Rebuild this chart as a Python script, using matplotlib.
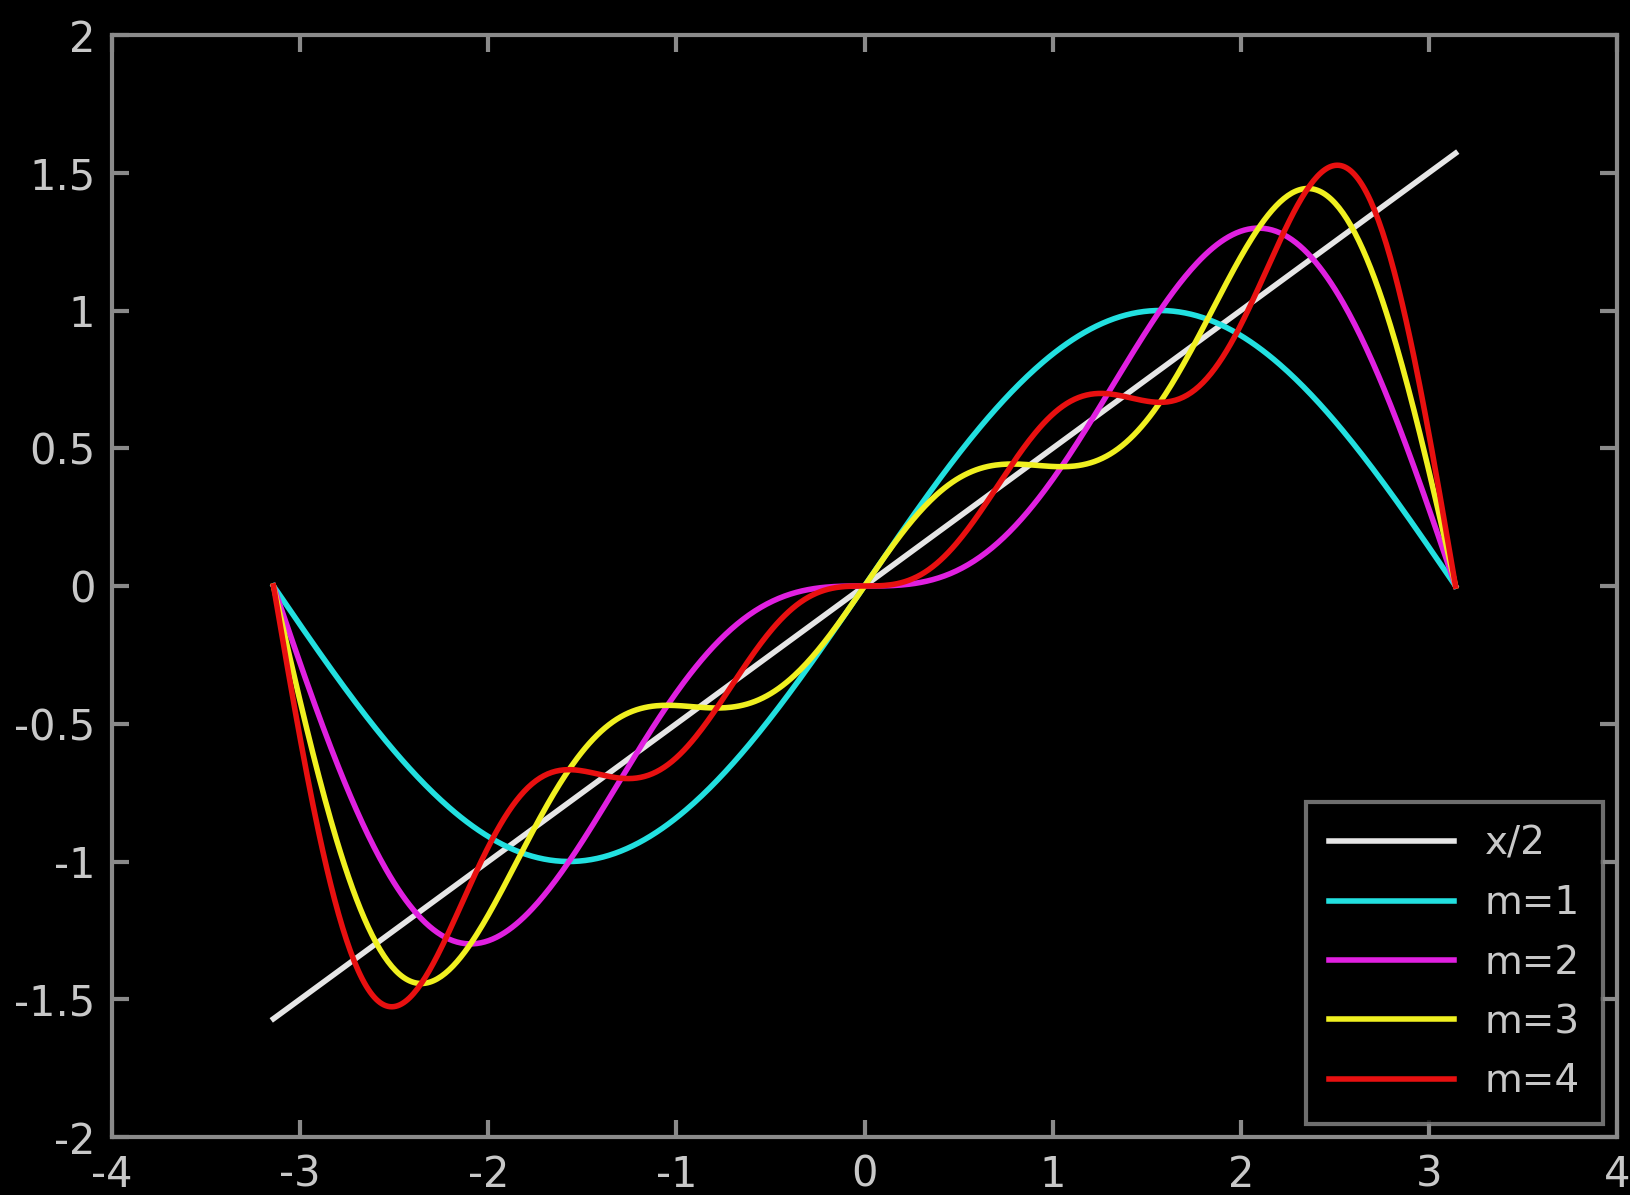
import numpy as np
import matplotlib.pyplot as plt

# sine coefficients of the partial sums (b_k for sin(k x))
coeffs = [1.0, -0.5, 1.0 / 3.0, -0.25]
orders = [1, 2, 3, 4]
labels = ['x/2', 'm=1', 'm=2', 'm=3', 'm=4']
colors = ['#e6e6e6', '#22e0e0', '#e020e0', '#f0f020', '#e81010']
xticks = [-4, -3, -2, -1, 0, 1, 2, 3, 4]
yticks = [-2, -1.5, -1, -0.5, 0, 0.5, 1, 1.5, 2]
ytick_labels = ['-2', '-1.5', '-1', '-0.5', '0', '0.5', '1', '1.5', '2']

x = np.linspace(-np.pi, np.pi, 600)

fig = plt.figure(figsize=(16.3, 11.95), dpi=100, facecolor='black')
ax = fig.add_axes([112 / 1630, 1 - 1137 / 1195, (1617 - 112) / 1630, (1137 - 35) / 1195])
ax.set_facecolor('black')

ax.plot(x, x / 2, color=colors[0], lw=4, label=labels[0])
for i, m in enumerate(orders):
    y = np.zeros_like(x)
    for k in range(m):
        y += coeffs[k] * np.sin((k + 1) * x)
    ax.plot(x, y, color=colors[i + 1], lw=4, label=labels[i + 1])

ax.set_xlim(-4, 4)
ax.set_ylim(-2, 2)
ax.set_xticks(xticks)
ax.set_xticklabels([str(t) for t in xticks])
ax.set_yticks(yticks)
ax.set_yticklabels(ytick_labels)
for s in ax.spines.values():
    s.set_color('#8a8a8a')
    s.set_linewidth(3)
ax.tick_params(direction='in', length=12, width=3, color='#8a8a8a',
               labelcolor='#c8c8c8', labelsize=30, top=True, right=True, pad=12)

leg = ax.legend(loc='lower right', fontsize=28, frameon=True, fancybox=False,
                handlelength=3.2, labelspacing=0.55, borderpad=0.6,
                borderaxespad=0, bbox_to_anchor=(0.991, 0.012))
leg.get_frame().set_facecolor('black')
leg.get_frame().set_edgecolor('#8a8a8a')
leg.get_frame().set_linewidth(3)
for t in leg.get_texts():
    t.set_color('#c8c8c8')

fig.savefig('out.png', dpi=100, facecolor='black')
